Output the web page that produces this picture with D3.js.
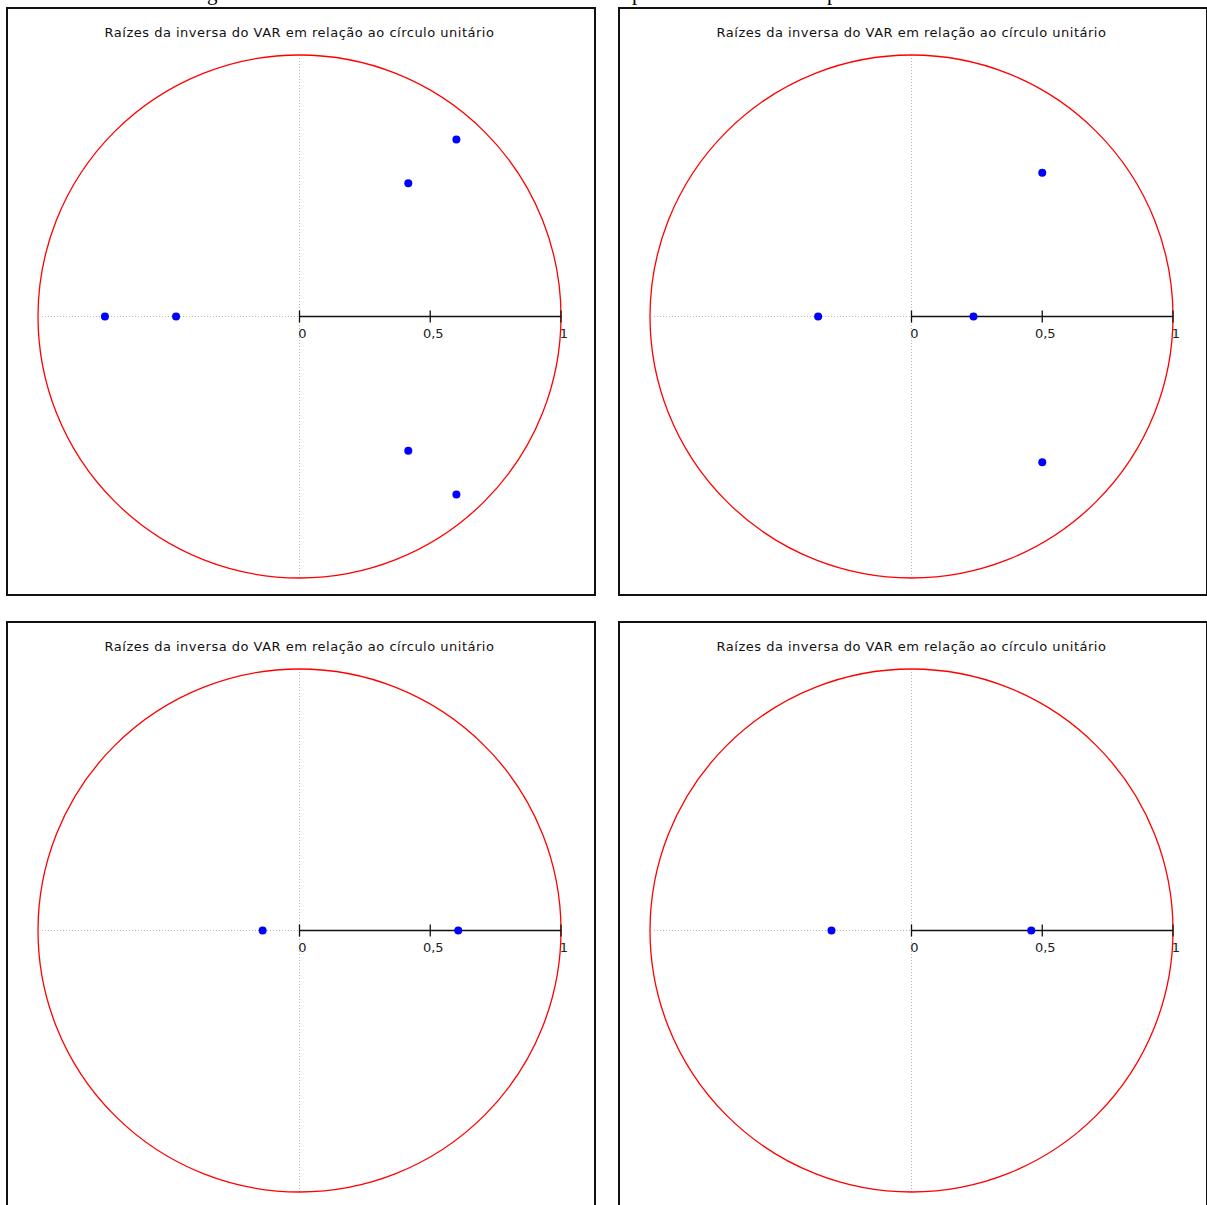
<!DOCTYPE html>
<html>
<head>
<meta charset="utf-8">
<script src="https://cdn.jsdelivr.net/npm/d3@7"></script>
<style>
  body { margin: 0; background: #fff; }
  svg { display: block; }
</style>
</head>
<body>
<div id="chart"></div>
<script>
// roots of the inverse VAR polynomial, one list per panel (re, im)
const rootsA = [[0.600, 0.677], [0.416, 0.510], [0.416, -0.513], [0.600, -0.681], [-0.744, 0], [-0.472, 0]];
const rootsB = [[0.500, 0.550], [0.500, -0.557], [-0.357, 0], [0.237, 0]];
const rootsC = [[-0.141, 0], [0.607, 0]];
const rootsD = [[-0.306, 0], [0.458, 0]];

const titleText = "Raízes da inversa do VAR em relação ao círculo unitário";
const tickValues = [0, 0.5, 1];
const tickLabels = ["0", "0,5", "1"];

// bits of the caption above, cut off by the page edge
const captionBits = [{t: "g", x: 207}, {t: "p", x: 632}, {t: "p", x: 827}];

const W = 1207, H = 1205;
const panelW = 588, panelH = 587;
const panels = [
  {x: 7, y: 8, roots: rootsA},
  {x: 619, y: 8, roots: rootsB},
  {x: 7, y: 622, roots: rootsC},
  {x: 619, y: 622, roots: rootsD}
];

const svg = d3.select("#chart").append("svg")
    .attr("width", W)
    .attr("height", H);

svg.selectAll("text.cap")
  .data(captionBits)
  .join("text")
    .attr("class", "cap")
    .attr("x", d => d.x)
    .attr("y", 0)
    .style("font-family", "'Liberation Serif', serif")
    .style("font-size", "21px")
    .text(d => d.t);

const cx = 292.5, cy = 308.5, r = 261.5;

panels.forEach(p => {
  const g = svg.append("g")
      .attr("transform", `translate(${p.x},${p.y})`);

  const x = d3.scaleLinear().domain([-1, 1]).range([cx - r, cx + r]);
  const y = d3.scaleLinear().domain([-1, 1]).range([cy + r, cy - r]);
  const y0 = Math.round(y(0)) - 0.5;

  g.append("rect")
      .attr("x", 0).attr("y", 0)
      .attr("width", panelW).attr("height", panelH)
      .attr("fill", "#fff")
      .attr("stroke", "#111")
      .attr("stroke-width", 2);

  g.append("text")
      .attr("x", cx)
      .attr("y", 29)
      .attr("text-anchor", "middle")
      .style("font-family", "Tahoma, 'DejaVu Sans', sans-serif")
      .style("font-size", "13px")
      .style("letter-spacing", "0.5px")
      .attr("fill", "#111")
      .text(titleText);

  // dotted guides
  g.append("line")
      .attr("x1", x(-0.985)).attr("x2", x(0))
      .attr("y1", y0).attr("y2", y0)
      .attr("stroke", "#b4b4b4")
      .attr("stroke-dasharray", "1,2");
  g.append("line")
      .attr("x1", Math.round(x(0)) - 0.5).attr("x2", Math.round(x(0)) - 0.5)
      .attr("y1", y(1)).attr("y2", y(-1))
      .attr("stroke", "#b4b4b4")
      .attr("stroke-dasharray", "1,2");

  g.append("circle")
      .attr("cx", x(0)).attr("cy", y(0))
      .attr("r", x(1) - x(0))
      .attr("fill", "none")
      .attr("stroke", "#ff0000")
      .attr("stroke-width", 1.3);

  // positive real axis
  const ax = g.append("g").attr("transform", `translate(0,${y0})`);
  ax.append("line")
      .attr("x1", x(0)).attr("x2", x(1))
      .attr("stroke", "#111")
      .attr("stroke-width", 1.3);
  ax.selectAll("line.tick")
    .data(tickValues)
    .join("line")
      .attr("class", "tick")
      .attr("x1", d => x(d)).attr("x2", d => x(d))
      .attr("y1", -6).attr("y2", 6)
      .attr("stroke", "#111")
      .attr("stroke-width", 1.3);
  ax.selectAll("text")
    .data(tickValues)
    .join("text")
      .attr("x", d => x(d) + 3)
      .attr("y", 21)
      .attr("text-anchor", "middle")
      .style("font-family", "Tahoma, 'DejaVu Sans', sans-serif")
      .style("font-size", "13px")
      .attr("fill", "#222")
      .text((d, i) => tickLabels[i]);

  g.selectAll("circle.root")
    .data(p.roots)
    .join("circle")
      .attr("class", "root")
      .attr("cx", d => x(d[0]))
      .attr("cy", d => y(d[1]))
      .attr("r", 4)
      .attr("fill", "#0000ff");
});
</script>
</body>
</html>
